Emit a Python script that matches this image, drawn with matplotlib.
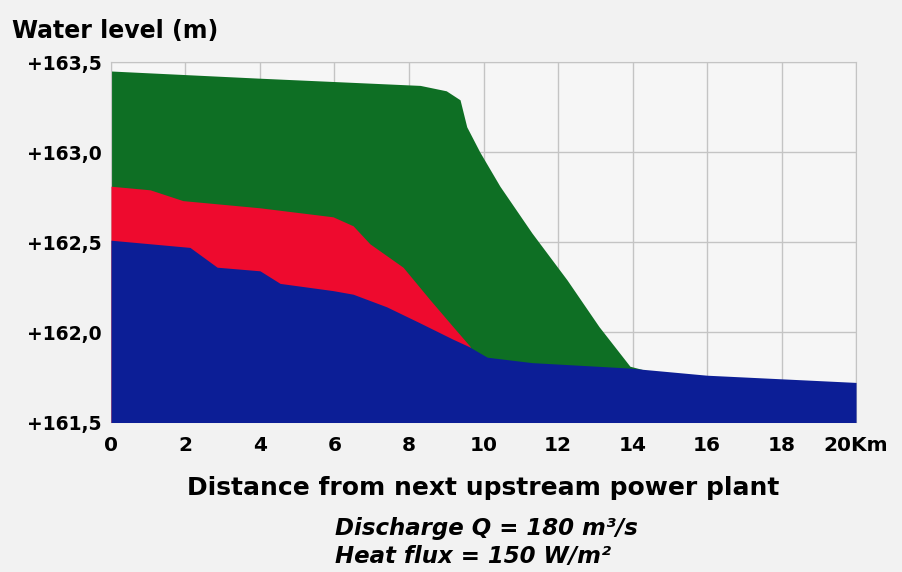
import matplotlib.pyplot as plt

# water level profiles (km, m)
green_x = [0, 4, 8.3, 9.0, 9.37, 9.55, 9.9, 10.44, 11.3, 12.24, 13.1, 13.93, 14.3]
green_y = [163.45, 163.41, 163.37, 163.34, 163.29, 163.14, 163.0, 162.81, 162.55, 162.29, 162.03, 161.81, 161.79]

red_x = [0, 1.05, 1.93, 4.0, 5.96, 6.5, 6.95, 7.84, 8.56, 9.18, 9.64]
red_y = [162.81, 162.79, 162.73, 162.69, 162.64, 162.59, 162.49, 162.36, 162.18, 162.03, 161.92]

blue_x = [0, 2.12, 2.85, 4.0, 4.54, 5.96, 6.5, 7.4, 8.3, 9.18, 9.6, 10.1, 11.3, 13.9, 16, 18, 20]
blue_y = [162.51, 162.47, 162.36, 162.34, 162.27, 162.23, 162.21, 162.14, 162.05, 161.96, 161.92, 161.86, 161.83, 161.80, 161.76, 161.74, 161.72]

x_ticks = [0, 2, 4, 6, 8, 10, 12, 14, 16, 18, 20]
x_labels = ['0', '2', '4', '6', '8', '10', '12', '14', '16', '18', '20Km']
y_ticks = [161.5, 162.0, 162.5, 163.0, 163.5]
y_labels = ['+161,5', '+162,0', '+162,5', '+163,0', '+163,5']

fig = plt.figure(figsize=(9.03, 5.72), dpi=100, facecolor='#f2f2f2')
ax = fig.add_axes([0.1229, 0.2622, 0.8251, 0.6294])
ax.set_facecolor('#f6f6f6')

# fill from below the visible range so the layer edges don't show at the bottom
base = 161.3
ax.fill_between(green_x, base, green_y, color='#0e6f24', lw=0, zorder=2)
ax.fill_between(red_x, base, red_y, color='#ee0a2e', lw=0, zorder=3)
ax.fill_between(blue_x, base, blue_y, color='#0c1e96', lw=0, zorder=4)

ax.set_xlim(0, 20)
ax.set_ylim(161.5, 163.5)
ax.set_xticks(x_ticks)
ax.set_xticklabels(x_labels, fontsize=14.5, fontweight='bold')
ax.set_yticks(y_ticks)
ax.set_yticklabels(y_labels, fontsize=13.5, fontweight='bold')
ax.tick_params(length=0)
ax.tick_params(axis='x', pad=10)
ax.tick_params(axis='y', pad=7)
ax.grid(True, color='#c4c4c4', lw=1, zorder=1)
ax.set_axisbelow(True)
for s in ax.spines.values():
    s.set_color('#c4c4c4')

ax.set_xlabel('Distance from next upstream power plant', fontsize=18, fontweight='bold', labelpad=15)

fig.text(12 / 903, 1 - 38 / 572, 'Water level (m)', fontsize=17, fontweight='bold', va='baseline')
fig.text(335 / 903, 1 - 535 / 572, 'Discharge Q = 180 m³/s', fontsize=16.5, fontweight='bold',
         style='italic', va='baseline')
fig.text(335 / 903, 1 - 563 / 572, 'Heat flux = 150 W/m²', fontsize=16.5, fontweight='bold',
         style='italic', va='baseline')

fig.savefig('out.png', dpi=100, facecolor=fig.get_facecolor())
